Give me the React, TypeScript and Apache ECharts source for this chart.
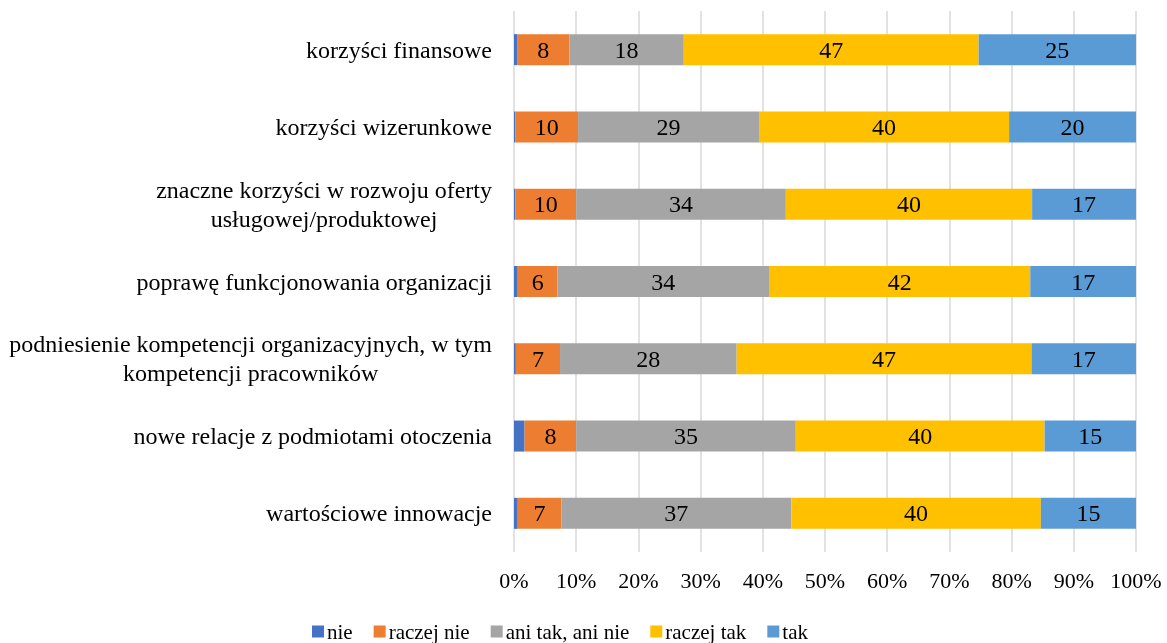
import React, { useEffect, useRef } from "react";
import * as echarts from "echarts";

const categories = [
  "korzyści finansowe",
  "korzyści wizerunkowe",
  "znaczne korzyści w rozwoju oferty\nusługowej/produktowej",
  "poprawę funkcjonowania organizacji",
  "podniesienie kompetencji organizacyjnych, w tym\nkompetencji pracowników",
  "nowe relacje z podmiotami otoczenia",
  "wartościowe innowacje",
];

const nie = [0.5, 0.2, 0.2, 0.6, 0.3, 1.7, 0.6];
const raczejNie = [8.4, 10.1, 9.8, 6.4, 7.1, 8.3, 7.0];
const aniTakAniNie = [18.4, 29.1, 33.7, 34.0, 28.4, 35.3, 37.0];
const raczejTak = [47.4, 40.2, 39.6, 42.0, 47.4, 40.0, 40.1];
const tak = [25.3, 20.4, 16.7, 17.0, 16.8, 14.7, 15.3];

const seriesNames = ["nie", "raczej nie", "ani tak, ani nie", "raczej tak", "tak"];
const seriesData = [nie, raczejNie, aniTakAniNie, raczejTak, tak];
const colors = ["#4472C4", "#ED7D31", "#A5A5A5", "#FFC000", "#5B9BD5"];
const showLabels = [false, true, true, true, true];

const FONT = "'Liberation Serif', 'Times New Roman', serif";

export default function App() {
  const ref = useRef<HTMLDivElement>(null);
  useEffect(() => {
    if (!ref.current) return;
    const chart = echarts.init(ref.current, null, { renderer: "svg" });
    chart.setOption({
      animation: false,
      color: colors,
      textStyle: { fontFamily: FONT },
      grid: { left: 514, right: 31, top: 11, bottom: 91, containLabel: false },
      xAxis: {
        type: "value",
        min: 0,
        max: 100,
        interval: 10,
        axisLine: { show: false },
        axisTick: { show: false },
        splitLine: { show: true, lineStyle: { color: "#d9d9d9", width: 1.5 } },
        axisLabel: {
          formatter: "{value}%",
          color: "#000",
          fontFamily: FONT,
          fontSize: 22,
          margin: 17,
        },
      },
      yAxis: {
        type: "category",
        data: categories,
        inverse: true,
        axisLine: { show: false },
        axisTick: { show: false },
        axisLabel: {
          color: "#000",
          fontFamily: FONT,
          fontSize: 24,
          margin: 22,
          align: "right",
          formatter: (v: string) =>
            v
              .split("\n")
              .map((l) => `{c|${l}}`)
              .join("\n"),
          rich: {
            c: {
              align: "center",
              color: "#000",
              fontFamily: FONT,
              fontSize: 24,
              lineHeight: 29,
            },
          },
        },
      },
      legend: {
        data: seriesNames,
        left: 307,
        top: 616,
        itemWidth: 12,
        itemHeight: 12,
        itemGap: 21,
        icon: "rect",
        textStyle: { color: "#000", fontFamily: FONT, fontSize: 21, padding: [0, 0, 0, -2] },
      },
      series: seriesNames.map((name, i) => ({
        name,
        type: "bar",
        stack: "total",
        barWidth: 31,
        data: seriesData[i],
        itemStyle: { color: colors[i] },
        label: {
          show: showLabels[i],
          position: "inside",
          color: "#000",
          fontFamily: FONT,
          fontSize: 24,
          formatter: (p: any) => String(Math.round(p.value)),
        },
      })),
    });
    return () => chart.dispose();
  }, []);
  return (
    <div
      ref={ref}
      style={{ position: "fixed", left: 0, top: 0, width: 1167, height: 643 }}
    />
  );
}
